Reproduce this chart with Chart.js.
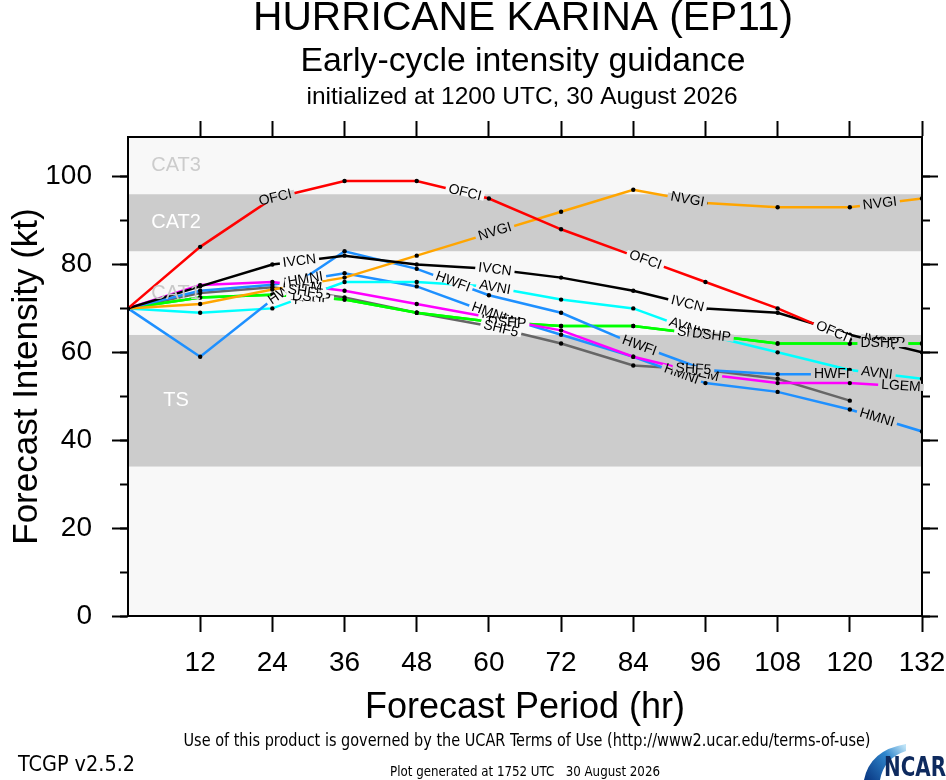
<!DOCTYPE html>
<html>
<head>
<meta charset="utf-8">
<title>Hurricane Karina (EP11) early-cycle intensity guidance</title>
<script src="https://cdn.jsdelivr.net/npm/chart.js@4.4.1/dist/chart.umd.min.js"></script>
<style>
  html, body { margin: 0; padding: 0; background: #fff; }
  #wrap { width: 946px; height: 780px; }
</style>
</head>
<body>
<div id="wrap"><canvas id="chart" width="946" height="780"></canvas></div>
<script>
// forecast hours and model intensities (kt)
const hours = [0, 12, 24, 36, 48, 60, 72, 84, 96, 108, 120, 132];
const ofci = [70, 84, 95, 99, 99, 95, 88, 82, 76, 70, 63, null];
const ivcn = [70, 75, 80, 82, 80, 79, 77, 74, 70, 69, 64, 60];
const nvgi = [70, 71, 74.3, 77, 82, 87, 92, 97, 94, 93, 93, 95];
const hwfi = [70, 59, 72, 83, 79, 73, 69, 62, 56, 55, 55, null];
const avni = [70, 69, 70, 76, 76, 75, 72, 70, 64, 60, 56, 54];
const lgem = [70, 75.3, 76, 74, 71, 68, 65, 59, 55, 53, 53, 52];
const hmni = [70, 74, 75.4, 78, 75, 69, 64, 59, 53, 51, 47, 42];
const ship = [70, 72.5, 73.1, 72, 69, 67, 66, 66, 64, 62, 62, 62];
const dshp = [70, 72.5, 73.1, 72, 69, 67, 66, 66, 64, 62, 62, 62];
const shf5 = [70, 73.5, 74.8, 72.5, 69, 66, 62, 57, 56, 54, 49, null];

const models = ["OFCI", "IVCN", "NVGI", "HWFI", "AVNI", "LGEM", "HMNI", "SHIP", "DSHP", "SHF5"];
const modelValues = [ofci, ivcn, nvgi, hwfi, avni, lgem, hmni, ship, dshp, shf5];
const modelColors = ["#ff0000", "#000000", "#ffa500", "#1e90ff", "#00ffff", "#ff00ff", "#1e90ff", "#00ff00", "#00ff00", "#666666"];

// hours where the model name is written along its line
const labelHours = {
  OFCI: [24.5, 56, 86, 117],
  IVCN: [28.5, 61, 93, 125],
  NVGI: [29, 61, 93, 125],
  HWFI: [26, 54, 85, 117],
  AVNI: [30, 61, 92.5, 124.5],
  LGEM: [29, 62, 95, 128.5],
  HMNI: [29.5, 60, 92, 124.5],
  SHIP: [29.5, 62, 94, 126.5],
  DSHP: [30.5, 63, 97, 125],
  SHF5: [29.5, 62, 94],
};

// Saffir-Simpson shading
const bandEdges = [0, 34, 64, 83, 96, 109];
const bandNames = ["", "TS", "CAT1", "CAT2", "CAT3"];
const bandFills = ["#f8f8f8", "#cccccc", "#f8f8f8", "#cccccc", "#f8f8f8"];
const bandTextColors = ["#cccccc", "#ffffff", "#c8c8c8", "#ffffff", "#cccccc"];
const bandLabelHour = 8;

const xTickStep = 12;
const yMajorStep = 20;
const yMinorStep = 10;

const FONT = '"Liberation Sans", Arial, Helvetica, sans-serif';
const NARROW = '"Liberation Sans Narrow", "DejaVu Sans Condensed", "Liberation Sans", sans-serif';

function bandIndex(v) {
  for (let i = 0; i < bandFills.length; i++) if (v < bandEdges[i + 1]) return i;
  return bandFills.length - 1;
}

// draw text squeezed/stretched to a given width
function fitText(ctx, text, x, y, size, width, family, weight) {
  ctx.font = `${weight || ""} ${size}px ${family}`;
  const w = ctx.measureText(text).width;
  ctx.save();
  ctx.translate(x, y);
  ctx.scale(width / w, 1);
  ctx.fillText(text, 0, 0);
  ctx.restore();
}

const bandsPlugin = {
  id: "bands",
  beforeDraw(chart) {
    const { ctx, chartArea: a, scales: { y } } = chart;
    ctx.save();
    bandFills.forEach((fill, i) => {
      const top = y.getPixelForValue(bandEdges[i + 1]);
      const bot = y.getPixelForValue(bandEdges[i]);
      ctx.fillStyle = fill;
      ctx.fillRect(a.left, top, a.right - a.left, bot - top);
    });
    ctx.restore();
  },
  // band names sit on top of the model lines, as in the original
  afterDatasetsDraw(chart) {
    const { ctx, scales: { x, y } } = chart;
    ctx.save();
    ctx.font = `20px ${FONT}`;
    ctx.textAlign = "center";
    ctx.textBaseline = "middle";
    bandNames.forEach((name, i) => {
      if (!name) return;
      ctx.fillStyle = bandTextColors[i];
      ctx.fillText(name, x.getPixelForValue(bandLabelHour), y.getPixelForValue((bandEdges[i] + bandEdges[i + 1]) / 2));
    });
    ctx.restore();
  }
};

const lineLabelsPlugin = {
  id: "lineLabels",
  afterDatasetsDraw(chart) {
    const { ctx, scales: { y } } = chart;
    ctx.save();
    ctx.font = `14px ${FONT}`;
    ctx.textAlign = "center";
    ctx.textBaseline = "middle";
    chart.data.datasets.forEach((ds, i) => {
      const pts = chart.getDatasetMeta(i).data;
      (labelHours[ds.label] || []).forEach(h => {
        let k = hours.findIndex((v, j) => j < hours.length - 1 && h >= v && h <= hours[j + 1]);
        const p0 = pts[k], p1 = pts[k + 1];
        if (k < 0 || !p0 || !p1 || p0.skip || p1.skip) return;
        const t = (h - hours[k]) / (hours[k + 1] - hours[k]);
        const px = p0.x + t * (p1.x - p0.x);
        const py = p0.y + t * (p1.y - p0.y);
        const w = ctx.measureText(ds.label).width;
        ctx.save();
        ctx.translate(px, py);
        ctx.rotate(Math.atan2(p1.y - p0.y, p1.x - p0.x));
        ctx.fillStyle = bandFills[bandIndex(y.getValueForPixel(py))];
        ctx.fillRect(-w / 2 - 3, -3.5, w + 6, 7);
        ctx.fillStyle = "#000";
        ctx.fillText(ds.label, 0, 0);
        ctx.restore();
      });
    });
    ctx.restore();
  }
};

const furniturePlugin = {
  id: "furniture",
  afterDraw(chart) {
    const { ctx } = chart;
    ctx.save();
    ctx.fillStyle = "#000";
    ctx.textAlign = "center";
    ctx.textBaseline = "middle";
    fitText(ctx, "HURRICANE KARINA (EP11)", 523, 19, 41, 540, FONT);
    fitText(ctx, "Early-cycle intensity guidance", 523, 62, 33, 445, FONT);
    fitText(ctx, "initialized at 1200 UTC, 30 August 2026", 522, 97, 24, 431, FONT);

    fitText(ctx, "Use of this product is governed by the UCAR Terms of Use (http://www2.ucar.edu/terms-of-use)", 527, 742, 17, 687, NARROW);
    fitText(ctx, "Plot generated at 1752 UTC   30 August 2026", 525, 772, 14, 270, NARROW);
    ctx.textAlign = "left";
    fitText(ctx, "TCGP v2.5.2", 18, 765, 22, 117, NARROW);

    // NCAR logo
    const g = ctx.createLinearGradient(866, 778, 905, 746);
    g.addColorStop(0, "#0b3b86");
    g.addColorStop(0.6, "#2f86cc");
    g.addColorStop(1, "#bfe4f7");
    ctx.fillStyle = g;
    ctx.beginPath();
    ctx.moveTo(864, 780);
    ctx.quadraticCurveTo(870, 750, 906, 744);
    ctx.lineTo(906, 751);
    ctx.quadraticCurveTo(884, 758, 880, 780);
    ctx.closePath();
    ctx.fill();
    ctx.fillStyle = "#0e2a5e";
    fitText(ctx, "NCAR", 884, 769, 26, 62, NARROW, "bold");
    ctx.restore();
  }
};

const datasets = models.map((name, i) => ({
  label: name,
  data: hours.map((h, j) => ({ x: h, y: modelValues[i][j] })),
  borderColor: modelColors[i],
  borderWidth: 2.5,
  pointRadius: 2.2,
  pointBorderWidth: 0,
  pointBackgroundColor: "#000",
  tension: 0,
  spanGaps: false,
}));

const hideZero = c => (c.tick && c.tick.value === 0) ? "rgba(0,0,0,0)" : "#000";
const blank = () => "";

Chart.defaults.font.family = FONT;
Chart.defaults.color = "#000";

new Chart(document.getElementById("chart"), {
  type: "line",
  data: { datasets },
  plugins: [bandsPlugin, lineLabelsPlugin, furniturePlugin],
  options: {
    responsive: false,
    animation: false,
    devicePixelRatio: 1,
    layout: { padding: { left: 0, right: 0, top: 0, bottom: 54 } },
    plugins: { legend: { display: false }, tooltip: { enabled: false } },
    scales: {
      x: {
        type: "linear", position: "bottom", min: 0, max: 132,
        ticks: { stepSize: xTickStep, padding: 14, maxRotation: 0, autoSkip: false, font: { size: 28 },
                 callback: v => v === 0 ? "" : v },
        grid: { drawOnChartArea: false, tickLength: 16, tickWidth: 2, tickColor: hideZero },
        border: { color: "#000", width: 2 },
        title: { display: true, text: "Forecast Period (hr)", font: { size: 36, lineHeight: 1 }, padding: { top: 0, bottom: 0 } },
        // "132" may overhang the frame; do not let it shrink the plot
        afterFit: s => { s.height = 110; s.paddingLeft = 0; s.paddingRight = 0; }
      },
      xTop: {
        type: "linear", position: "top", min: 0, max: 132,
        ticks: { stepSize: xTickStep, callback: blank },
        grid: { drawOnChartArea: false, tickLength: 16, tickWidth: 2, tickColor: hideZero },
        border: { color: "#000", width: 2 },
        afterFit: s => { s.height = 137; s.paddingLeft = 0; s.paddingRight = 0; }
      },
      y: {
        position: "left", weight: 1, min: 0, max: 109,
        ticks: { stepSize: yMajorStep, includeBounds: false, padding: 20, font: { size: 28 } },
        grid: { drawOnChartArea: false, tickLength: 16, tickWidth: 2, tickColor: "#000" },
        border: { color: "#000", width: 2 },
        title: { display: true, text: "Forecast Intensity (kt)", font: { size: 35, lineHeight: 1 }, padding: { top: 10, bottom: 0 } },
        afterFit: s => { s.width = 128; }
      },
      yMinor: {
        position: "left", weight: 0, min: 0, max: 109,
        ticks: { stepSize: yMinorStep, includeBounds: false, callback: blank },
        grid: { drawOnChartArea: false, tickLength: 8, tickWidth: 2, tickColor: "#000" },
        border: { display: false },
        afterFit: s => { s.width = 0; }
      },
      yRight: {
        position: "right", weight: 1, min: 0, max: 109,
        ticks: { stepSize: yMajorStep, includeBounds: false, callback: blank },
        grid: { drawOnChartArea: false, tickLength: 16, tickWidth: 2, tickColor: "#000" },
        border: { color: "#000", width: 2 },
        afterFit: s => { s.width = 24; }
      },
      yRightMinor: {
        position: "right", weight: 0, min: 0, max: 109,
        ticks: { stepSize: yMinorStep, includeBounds: false, callback: blank },
        grid: { drawOnChartArea: false, tickLength: 8, tickWidth: 2, tickColor: "#000" },
        border: { display: false },
        afterFit: s => { s.width = 0; }
      }
    }
  }
});
</script>
</body>
</html>
